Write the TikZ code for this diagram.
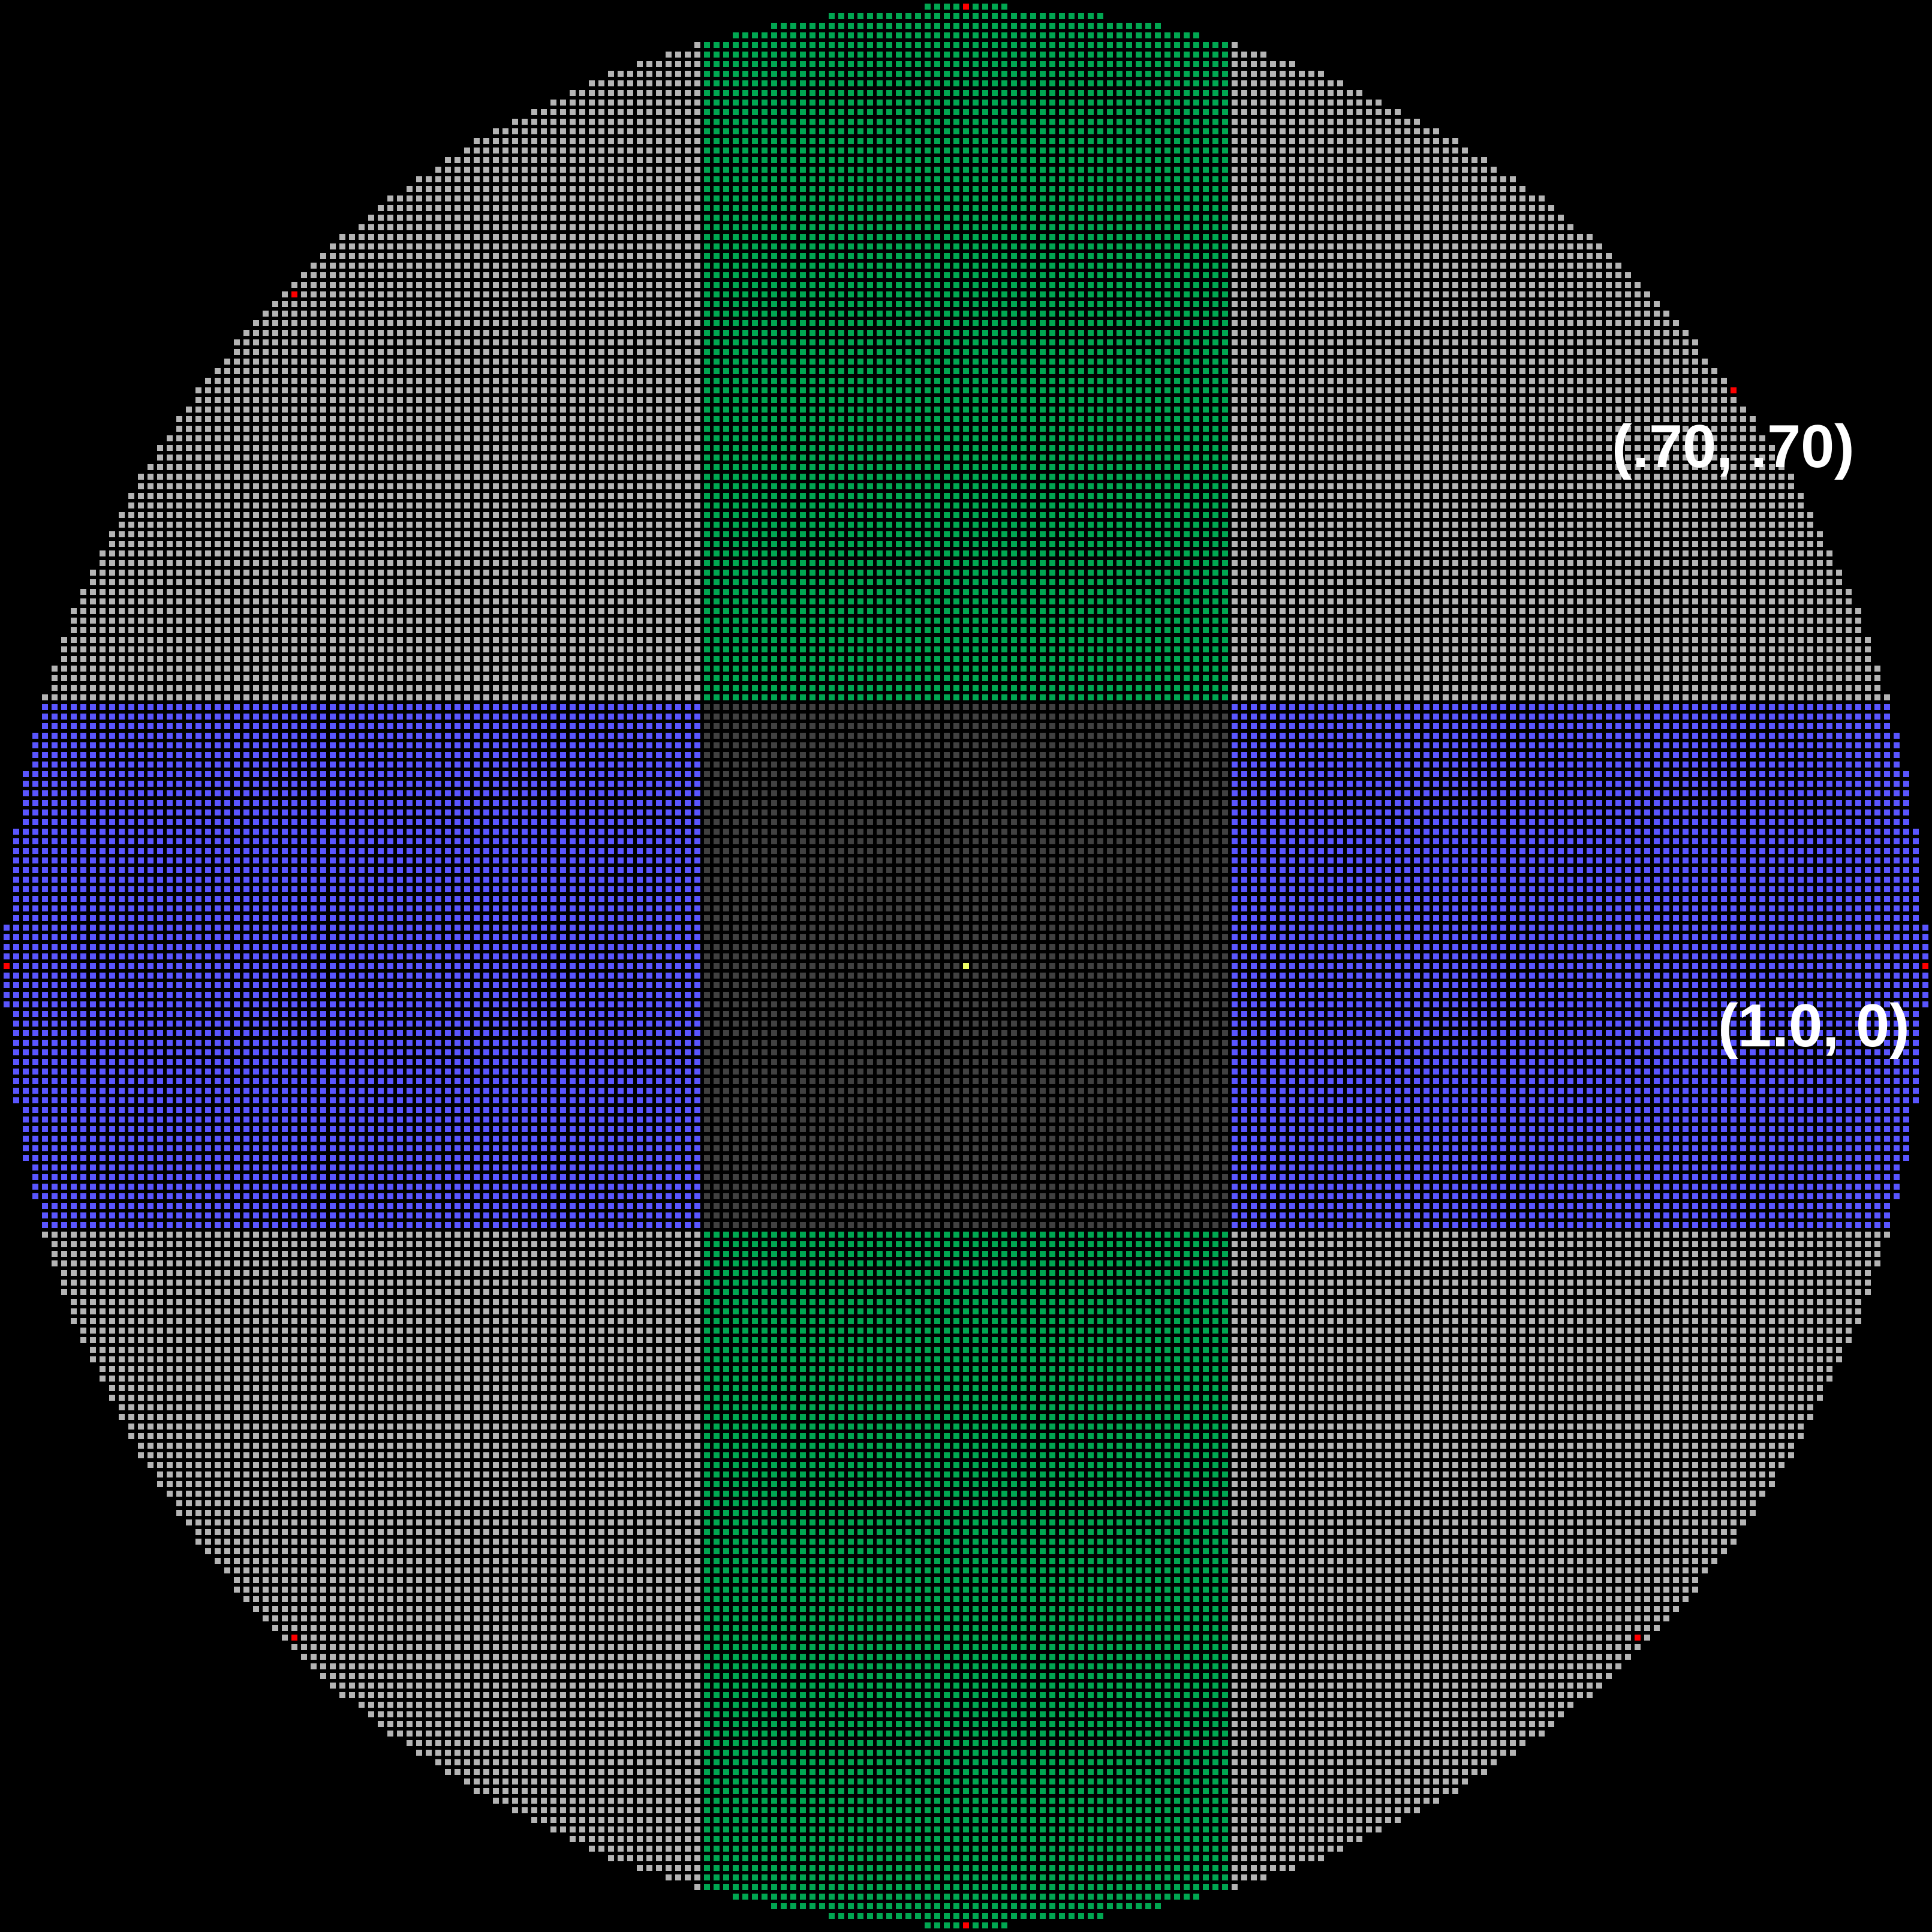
\documentclass[tikz,border=0pt]{standalone}
\usepackage{fontspec}
\setsansfont{Liberation Sans}
\usepackage{tikz}
\definecolor{greenx}{HTML}{00A651}
\definecolor{bluex}{HTML}{5A55FF}
\definecolor{lgrayx}{HTML}{B4B4B4}
\definecolor{dgrayx}{HTML}{404040}
\definecolor{redx}{HTML}{FF0000}
\definecolor{yelx}{HTML}{EEFF66}
\tikzset{
  row/.style={line width=0.0625cm,dash pattern=on 0.0625cm off 0.0375cm},
  dot/.style={fill=redx},
  lab/.style={text=white,inner sep=0pt,font=\sffamily\bfseries\fontsize{18}{20}\selectfont}
}

\begin{document}
\begin{tikzpicture}[x=0.1cm,y=0.1cm]
\fill[black] (-100.6875,-100.6875) rectangle (100.6875,100.6875);
% one dashed line per row and region
\foreach \j in {-100,...,100}{
  \pgfmathtruncatemacro{\m}{floor(sqrt(10020.5-\j*\j))}
  \pgfmathtruncatemacro{\a}{abs(\j)}
  \ifnum\a<28
    \draw[row,bluex] (-\m-0.3125,\j) -- (-27.6875,\j);
    \draw[row,dgrayx] (-27.3125,\j) -- (27.3125,\j);
    \draw[row,bluex] (27.6875,\j) -- (\m+0.3125,\j);
  \else
    \ifnum\m<28
      \draw[row,greenx] (-\m-0.3125,\j) -- (\m+0.3125,\j);
    \else
      \draw[row,lgrayx] (-\m-0.3125,\j) -- (-27.6875,\j);
      \draw[row,greenx] (-27.3125,\j) -- (27.3125,\j);
      \draw[row,lgrayx] (27.6875,\j) -- (\m+0.3125,\j);
    \fi
  \fi
}
\foreach \x/\y in {0/100,0/-100,-100/0,100/0,80/60,-70/70,-70/-70,70/-70}
  \fill[dot] (\x-0.3125,\y-0.3125) rectangle ++(0.625,0.625);
\fill[yelx] (-0.3125,-0.3125) rectangle (0.3125,0.3125);
\node[lab] (diag) at (80,53.6) {(.70, .70)};
\node[lab] (axis) at (88.4,-6.8) {(1.0, 0)};
\end{tikzpicture}
\end{document}
